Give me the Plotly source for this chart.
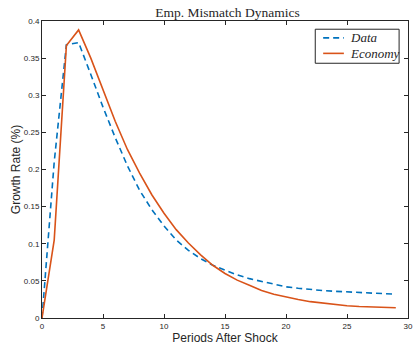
import plotly.graph_objects as go

periods = list(range(30))
data_vals = [0.0, 0.21, 0.368, 0.371, 0.328, 0.284, 0.243, 0.205, 0.172, 0.146,
             0.124, 0.105, 0.091, 0.080, 0.071, 0.064, 0.058, 0.053, 0.049, 0.045,
             0.042, 0.040, 0.038, 0.037, 0.036, 0.035, 0.034, 0.033, 0.0325, 0.032]
econ_vals = [0.0, 0.105, 0.367, 0.388, 0.350, 0.307, 0.265, 0.227, 0.195, 0.166,
             0.141, 0.119, 0.101, 0.085, 0.071, 0.060, 0.051, 0.044, 0.037, 0.032,
             0.028, 0.025, 0.022, 0.020, 0.018, 0.0165, 0.0155, 0.0148, 0.0142, 0.0138]
series_names = ["Data", "Economy"]
series_colors = ["#0072BD", "#D95319"]
x_ticks = [0, 5, 10, 15, 20, 25, 30]
y_ticks = [0, 0.05, 0.1, 0.15, 0.2, 0.25, 0.3, 0.35, 0.4]
y_tick_labels = ["0", "0.05", "0.1", "0.15", "0.2", "0.25", "0.3", "0.35", "0.4"]

DASH = "6px,4px"

fig = go.Figure()
fig.add_trace(go.Scatter(x=periods, y=data_vals, mode="lines", name=series_names[0],
                         line=dict(color=series_colors[0], width=1.6, dash=DASH),
                         showlegend=False))
fig.add_trace(go.Scatter(x=periods, y=econ_vals, mode="lines", name=series_names[1],
                         line=dict(color=series_colors[1], width=1.6),
                         showlegend=False))

# Manual legend (paper coordinates) to match the compact MATLAB-style box
lx0, lx1, ly0, ly1 = 0.7466, 0.9757, 0.8577, 0.9723
fig.add_shape(type="rect", xref="paper", yref="paper", x0=lx0, x1=lx1, y0=ly0, y1=ly1,
              line=dict(color="#262626", width=1), fillcolor="white", layer="above")
rows_y = [0.9433, 0.891]
dashes = [DASH, "solid"]
for name, color, ry, d in zip(series_names, series_colors, rows_y, dashes):
    fig.add_shape(type="line", xref="paper", yref="paper", x0=0.7682, x1=0.8248,
                  y0=ry, y1=ry, line=dict(color=color, width=1.6, dash=d), layer="above")
    fig.add_annotation(xref="paper", yref="paper", x=0.8356, y=ry, xanchor="left",
                       yanchor="middle", showarrow=False, text="<i>" + name + "</i>",
                       font=dict(family="Liberation Serif", size=13, color="#262626"))

axis_common = dict(showline=True, linecolor="#262626", linewidth=1, mirror="allticks",
                   ticks="inside", ticklen=4, tickcolor="#262626", showgrid=False,
                   zeroline=False, tickfont=dict(family="Liberation Sans", size=8, color="#262626"))

fig.update_layout(
    width=418, height=346,
    margin=dict(l=42, r=5, t=21, b=25),
    paper_bgcolor="white", plot_bgcolor="white",
    title=dict(text="Emp. Mismatch Dynamics", x=(42 + 413) / 2 / 418, xanchor="center",
               y=1 - 12 / 346, yanchor="middle",
               font=dict(family="Liberation Serif", size=13.5, color="#262626")),
    xaxis=dict(range=[0, 30], tickvals=x_ticks,
               title=dict(text="Periods After Shock", standoff=2,
                          font=dict(family="Liberation Sans", size=12, color="#262626")),
               **axis_common),
    yaxis=dict(range=[0, 0.4], tickvals=y_ticks, ticktext=y_tick_labels,
               title=dict(text="Growth Rate (%)", standoff=0,
                          font=dict(family="Liberation Sans", size=12, color="#262626")),
               **axis_common),
    showlegend=False,
)

fig.write_html("out.html")
